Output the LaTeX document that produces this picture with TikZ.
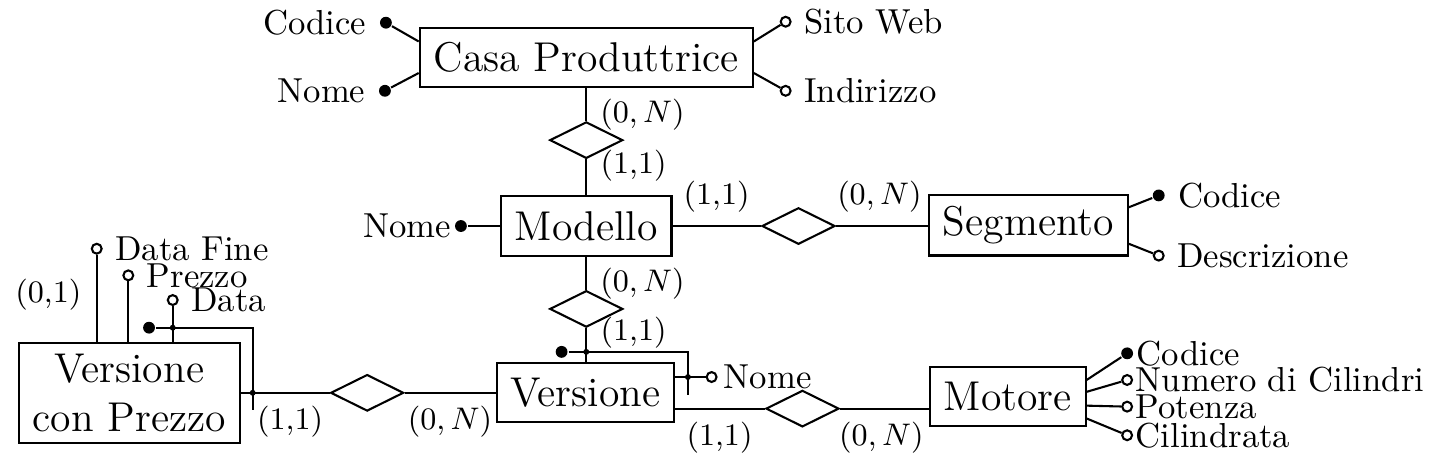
\documentclass[tikz,border=0pt]{standalone}
\usepackage{amsmath}
\usepackage{tikz}
\usetikzlibrary{shapes.geometric}

\begin{document}
\begin{tikzpicture}[line width=0.6pt,
entity/.style={draw,rectangle,font=\large,minimum height=0.6cm,inner xsep=4pt},
rel/.style={draw,diamond,inner sep=0pt,minimum width=0.74cm,minimum height=0.37cm},
idattr/.style={circle,fill,inner sep=0pt,minimum size=0.12cm},
optattr/.style={circle,draw,fill=white,inner sep=0pt,minimum size=0.1cm},
jn/.style={circle,fill,inner sep=0pt,minimum size=0.06cm},
card/.style={font=\small,inner sep=0pt}]
\useasboundingbox (0,0) rectangle (14.60,4.73);
% entita'
\node[entity](casa) at (5.94,4.15) {Casa Produttrice};
\node[entity](modello) at (5.94,2.44) {Modello};
\node[entity](segmento) at (10.42,2.45) {Segmento};
\node[entity](versione) at (5.93,0.75) {Versione};
\node[entity](motore) at (10.21,0.71) {Motore};
\node[entity,align=center](vcp) at (1.31,0.75) {Versione\\con Prezzo};
% relazioni
\node[rel](r1) at (5.94,3.31) {};
\node[rel](r2) at (5.94,1.60) {};
\node[rel](r3) at (8.09,2.44) {};
\node[rel](r4) at (8.13,0.59) {};
\node[rel](r5) at (3.72,0.75) {};
\draw (casa) -- (r1) -- (modello) -- (r2) -- (r2 |- versione.north);
\draw (modello) -- (r3) -- (segmento.west |- r3.east);
\draw (vcp) -- (r5) -- (versione);
\draw (versione.east |- r4.west) -- (r4.west);
\draw (r4.east) -- (motore.west |- r4.east);
% cardinalita'
\node[card](c1) at (6.51,3.57) {$(0,N)$};
\node[card](c2) at (6.42,3.05) {(1,1)};
\node[card](c3) at (7.26,2.74) {(1,1)};
\node[card](c4) at (8.91,2.74) {$(0,N)$};
\node[card](c5) at (6.51,1.86) {$(0,N)$};
\node[card](c6) at (6.42,1.36) {(1,1)};
\node[card](c7) at (7.29,0.30) {(1,1)};
\node[card](c8) at (8.93,0.30) {$(0,N)$};
\node[card](c9) at (2.94,0.46) {(1,1)};
\node[card](c10) at (4.56,0.46) {$(0,N)$};
\node[card](c11) at (0.49,1.74) {(0,1)};
% attributi Casa Produttrice
\node[idattr,label=left:Codice](cCod) at (3.91,4.50) {};
\node[idattr,label=left:Nome](cNome) at (3.90,3.81) {};
\node[optattr,label=right:Sito Web](cSito) at (7.96,4.51) {};
\node[optattr,label=right:Indirizzo](cInd) at (7.96,3.81) {};
\draw ([yshift=0.16cm]casa.west) -- (cCod);
\draw ([yshift=-0.16cm]casa.west) -- (cNome);
\draw ([yshift=0.16cm]casa.east) -- (cSito);
\draw ([yshift=-0.16cm]casa.east) -- (cInd);
% attributi Modello e Segmento
\node[idattr,label={[inner sep=0.5pt]left:Nome}](mNome) at (4.67,2.44) {};
\draw (modello) -- (mNome);
\node[idattr,label=right:Codice](sCod) at (11.74,2.75) {};
\node[optattr,label=right:Descrizione](sDesc) at (11.74,2.14) {};
\draw ([yshift=0.18cm]segmento.east) -- (sCod);
\draw ([yshift=-0.19cm]segmento.east) -- (sDesc);
% attributi Motore
\node[idattr,label={[inner sep=0.5pt]right:Codice}](moCod) at (11.42,1.15) {};
\node[optattr,label={[inner sep=0.5pt]right:Numero di Cilindri}](moNum) at (11.42,0.88) {};
\node[optattr,label={[inner sep=0.5pt]right:Potenza}](moPot) at (11.42,0.61) {};
\node[optattr,label={[inner sep=0.5pt]right:Cilindrata}](moCil) at (11.42,0.32) {};
\draw ([yshift=0.17cm]motore.east) -- (moCod);
\draw ([yshift=0.05cm]motore.east) -- (moNum);
\draw ([yshift=-0.09cm]motore.east) -- (moPot);
\draw ([yshift=-0.22cm]motore.east) -- (moCil);
% identificatore Versione
\node[optattr,label={[inner sep=1.5pt]right:Nome}](vNome) at (7.21,0.91) {};
\draw ([yshift=0.16cm]versione.east) -- (vNome);
\node[idattr](vId) at (5.69,1.165) {};
\coordinate (vC) at (6.97,1.165);
\coordinate (vE) at (6.97,0.73);
\draw (vId) -- (vC) -- (vE);
\node[jn](vJ1) at (r2 |- vId) {};
\node[jn](vJ2) at (vC |- vNome) {};
% attributi e identificatore Versione con Prezzo
\node[optattr,label=right:Data Fine](pFine) at (0.98,2.21) {};
\node[optattr,label=right:Prezzo](pPrezzo) at (1.30,1.94) {};
\node[optattr,label=right:Data](pData) at (1.75,1.69) {};
\draw (pFine) -- (pFine |- vcp.north);
\draw (pPrezzo) -- (pPrezzo |- vcp.north);
\draw (pData) -- (pData |- vcp.north);
\node[idattr](pId) at (1.51,1.41) {};
\coordinate (pC) at (2.56,1.41);
\coordinate (pE) at (2.56,0.58);
\draw (pId) -- (pC) -- (pE);
\node[jn](pJ1) at (pData |- pId) {};
\node[jn](pJ2) at (pC |- vcp.east) {};
\end{tikzpicture}
\end{document}
